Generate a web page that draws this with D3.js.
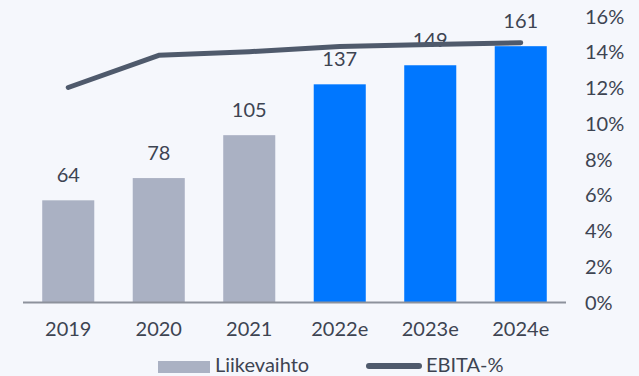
<!DOCTYPE html>
<html>
<head>
<meta charset="utf-8">
<script src="https://cdn.jsdelivr.net/npm/d3@7/dist/d3.min.js"></script>
<style>
  html, body { margin: 0; padding: 0; background: #f5f7fc; }
  svg { display: block; font-family: Lato, "Noto Sans", sans-serif; }
</style>
</head>
<body>
<svg id="chart" width="639" height="376"></svg>
<script>
// Revenue (Liikevaihto, MEUR) and EBITA margin by year
const years = ["2019", "2020", "2021", "2022e", "2023e", "2024e"];
const revenue = [64, 78, 105, 137, 149, 161];
const ebitaPct = [12.0, 13.8, 14.0, 14.3, 14.4, 14.5];
const isEstimate = [false, false, false, true, true, true];
const pctTicks = [0, 2, 4, 6, 8, 10, 12, 14, 16];

const colActual = "#aab1c3";
const colEstimate = "#0077ff";
const colLine = "#4f5a6c";
const colText = "#3d4452";
const fontSize = 20;

const svg = d3.select("#chart");
const plotLeft = 23, plotRight = 566, plotTop = 16, plotBottom = 302;

const x = d3.scaleBand().domain(years).range([plotLeft, plotRight])
  .paddingInner(0.425).paddingOuter(0.2125);
const yBar = d3.scaleLinear().domain([0, 180]).range([plotBottom, plotTop]);
const yPct = d3.scaleLinear().domain([0, 16]).range([plotBottom, plotTop]);

// bars
svg.append("g").selectAll("rect").data(years).join("rect")
  .attr("x", d => x(d))
  .attr("width", x.bandwidth())
  .attr("y", (d, i) => yBar(revenue[i]))
  .attr("height", (d, i) => plotBottom - yBar(revenue[i]))
  .attr("fill", (d, i) => isEstimate[i] ? colEstimate : colActual);

// baseline
svg.append("line")
  .attr("x1", plotLeft).attr("x2", plotRight)
  .attr("y1", plotBottom + 0.5).attr("y2", plotBottom + 0.5)
  .attr("stroke", "#8d929c").attr("stroke-width", 2);

// value labels
svg.append("g").selectAll("text").data(years).join("text")
  .attr("x", d => x(d) + x.bandwidth() / 2)
  .attr("y", (d, i) => yBar(revenue[i]) - 18)
  .attr("text-anchor", "middle")
  .attr("font-size", fontSize)
  .attr("fill", colText)
  .text((d, i) => revenue[i]);

// category axis
const xAxis = d3.axisBottom(x).tickSize(0).tickPadding(0);
const gx = svg.append("g").attr("transform", `translate(0,${plotBottom})`).call(xAxis);
gx.select(".domain").remove();
gx.selectAll("text")
  .attr("y", 34).attr("dy", 0)
  .attr("font-size", fontSize)
  .attr("font-family", "Lato, 'Noto Sans', sans-serif")
  .attr("fill", colText);

// percentage axis on the right
const yAxis = d3.axisRight(yPct).tickValues(pctTicks).tickSize(0).tickPadding(0)
  .tickFormat(d => d + "%");
const gy = svg.append("g").attr("transform", "translate(585,0)").call(yAxis);
gy.select(".domain").remove();
gy.selectAll("text")
  .attr("x", 0).attr("dy", "0.35em")
  .attr("text-anchor", "start")
  .attr("font-size", fontSize)
  .attr("font-family", "Lato, 'Noto Sans', sans-serif")
  .attr("fill", colText);

// EBITA-% line
const line = d3.line()
  .x((d, i) => x(years[i]) + x.bandwidth() / 2)
  .y(d => yPct(d));
svg.append("path")
  .datum(ebitaPct)
  .attr("d", line)
  .attr("fill", "none")
  .attr("stroke", colLine)
  .attr("stroke-width", 5)
  .attr("stroke-linecap", "round")
  .attr("stroke-linejoin", "round");

// legend
const lg = svg.append("g");
lg.append("rect").attr("x", 158).attr("y", 361).attr("width", 52).attr("height", 12)
  .attr("fill", colActual);
lg.append("text").attr("x", 215).attr("y", 372).attr("font-size", fontSize)
  .attr("fill", colText).text("Liikevaihto");
lg.append("line").attr("x1", 369).attr("x2", 419).attr("y1", 366).attr("y2", 366)
  .attr("stroke", colLine).attr("stroke-width", 6).attr("stroke-linecap", "round");
lg.append("text").attr("x", 426).attr("y", 372).attr("font-size", fontSize)
  .attr("fill", colText).text("EBITA-%");
</script>
</body>
</html>
